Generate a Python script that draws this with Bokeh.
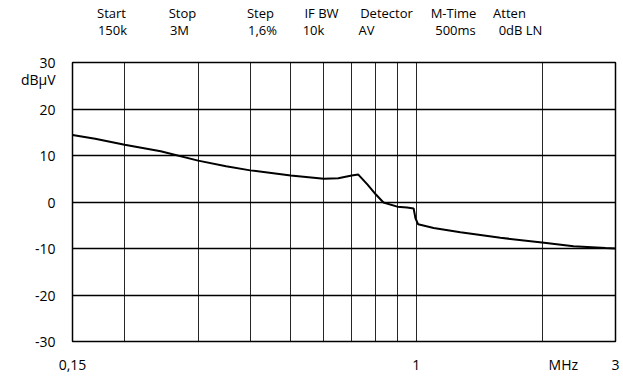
from bokeh.plotting import figure
from bokeh.models import FixedTicker, LogAxis
from bokeh.embed import file_html
from bokeh.resources import INLINE

# ---- data ----
freq_mhz = [0.15, 0.17, 0.2, 0.244, 0.3, 0.35, 0.4, 0.5, 0.6, 0.65, 0.7, 0.726, 0.763,
            0.8, 0.834, 0.9, 0.95, 0.985, 0.995, 1.01, 1.1, 1.275, 1.59, 2.0, 2.38, 2.84, 3.0]
level_dbuv = [14.4, 13.6, 12.3, 10.9, 8.9, 7.7, 6.8, 5.7, 5.0, 5.1, 5.7, 5.9, 3.8,
              1.6, -0.1, -1.0, -1.2, -1.4, -3.5, -4.8, -5.6, -6.5, -7.7, -8.7, -9.5, -9.9, -10.0]

x_grid = [0.2, 0.3, 0.4, 0.5, 0.6, 0.7, 0.8, 0.9, 1, 2]
y_grid = [-20, -10, 0, 10, 20]
y_ticks = [-30, -20, -10, 0, 10, 20, 30]
y_unit = "dBµV"
x_tick_vals = [0.15, 1, 2.25, 3]
x_tick_text = ["0,15", "1", "MHz", "3"]

header_top = ["Start", "Stop", "Step", "IF BW", "Detector", "M-Time", "Atten"]
header_bot = ["150k", "3M", "1,6%", "10k", "AV", "500ms", "0dB LN"]

FONT = "Open Sans"
X0, X1 = 0.15, 3.0
Y0, Y1 = -30, 30

W, H = 620, 378
ML, MR, MT, MB = 72, 5, 61, 37
FW = W - ML - MR
FH = H - MT - MB

p = figure(width=W, height=H, x_axis_type="log", x_range=(X0, X1), y_range=(Y0, Y1),
           output_backend="svg", toolbar_location=None,
           min_border_left=ML, min_border_right=MR, min_border_top=MT, min_border_bottom=MB)
p.outline_line_color = "black"
p.outline_line_width = 1.5
p.background_fill_color = "white"
p.border_fill_color = "white"

# grids
p.xgrid.ticker = FixedTicker(ticks=x_grid)
p.xgrid.grid_line_color = "black"
p.xgrid.grid_line_width = 1
p.xgrid.grid_line_alpha = 0.85
p.ygrid.ticker = FixedTicker(ticks=y_grid)
p.ygrid.grid_line_color = "black"
p.ygrid.grid_line_width = 1.5


def plain_axis(ax, standoff, size):
    ax.axis_line_color = None
    ax.major_tick_line_color = None
    ax.minor_tick_line_color = None
    ax.major_tick_out = 0
    ax.major_tick_in = 0
    ax.minor_tick_out = 0
    ax.minor_tick_in = 0
    ax.major_label_standoff = standoff
    ax.major_label_text_font = FONT
    ax.major_label_text_font_size = size
    ax.major_label_text_color = "black"


# y axis
unit_pos = 26.4
yax = p.yaxis[0]
yax.ticker = FixedTicker(ticks=y_ticks + [unit_pos])
overrides = {t: str(t) for t in y_ticks}
overrides[unit_pos] = y_unit
yax.major_label_overrides = overrides
plain_axis(yax, 17, "14px")

# x axis
xax = p.xaxis[0]
xax.ticker = FixedTicker(ticks=x_tick_vals)
xax.major_label_overrides = {v: t for v, t in zip(x_tick_vals, x_tick_text)}
plain_axis(xax, 13, "14px")

# curve
p.line(freq_mhz, level_dbuv, line_color="black", line_width=2)


# header rows as label-only axes above the frame (column centres in page px)
def px_to_f(px):
    return X0 * (X1 / X0) ** ((px - ML) / FW)

top_centres = [111, 182, 260, 321, 386, 453, 509]
bot_centres = [112, 179, 262, 313, 366, 455, 520]

for labels, centres, standoff in ((header_bot, bot_centres, 24), (header_top, top_centres, -4)):
    ticks = [px_to_f(c) for c in centres]
    ax = LogAxis(ticker=FixedTicker(ticks=ticks),
                 major_label_overrides={t: s for t, s in zip(ticks, labels)})
    plain_axis(ax, standoff, "13px")
    p.add_layout(ax, "above")

open("out.html", "w").write(file_html(p, INLINE))
